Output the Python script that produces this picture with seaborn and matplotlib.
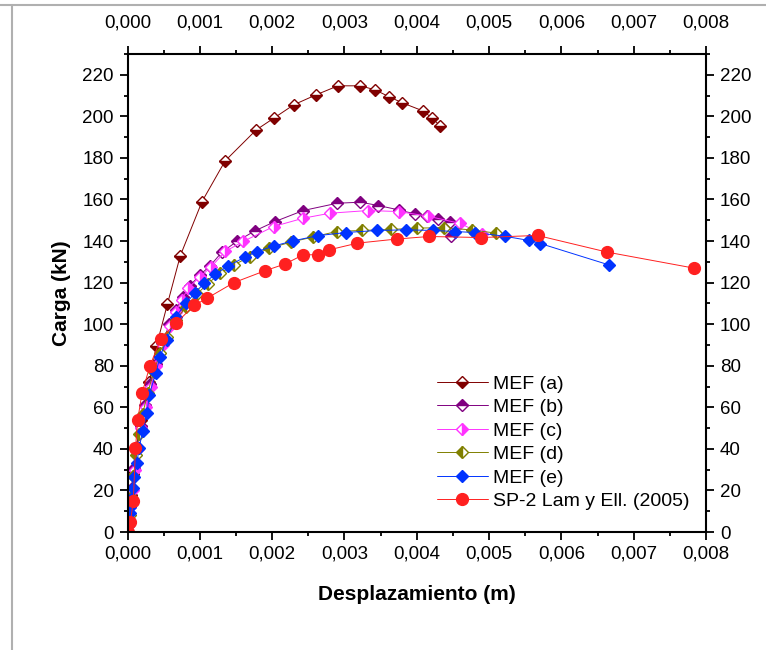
import seaborn as sns
import matplotlib.pyplot as plt
import pandas as pd
import numpy as np
from matplotlib.ticker import MultipleLocator, FuncFormatter, NullLocator
from matplotlib.lines import Line2D

# --- data (displacement in m, load in kN) ---
a_x = [0, 0.00002, 0.00005, 0.00008, 0.00012, 0.00018, 0.00030, 0.00040, 0.00055, 0.00073,
       0.00103, 0.00135, 0.00178, 0.00203, 0.00230, 0.00261, 0.00291, 0.00322, 0.00342,
       0.00362, 0.00380, 0.00408, 0.00421, 0.00432]
a_y = [0, 8, 18, 28, 40, 54, 72, 89.5, 109.5, 133, 159, 178.6, 193.5, 199.3, 205.6, 210.4,
       214.7, 214.7, 212.8, 209.4, 206.5, 202.7, 199.3, 195.5]

b_x = [0, 0.00002, 0.00004, 0.00006, 0.00009, 0.00013, 0.00018, 0.00024, 0.00031, 0.00039,
       0.00048, 0.00058, 0.00067, 0.00077, 0.00086, 0.00100, 0.00114, 0.00130, 0.00151,
       0.00176, 0.00204, 0.00243, 0.00290, 0.00322, 0.00347, 0.00375, 0.00398, 0.00414,
       0.00430, 0.00446, 0.00448]
b_y = [0, 6, 13, 21, 31, 41, 51, 61, 71, 81, 91, 100, 107, 113.3, 118.4, 123.7, 128, 134.5,
       139.8, 144.9, 149.4, 154.7, 158.2, 158.7, 157.1, 155, 153, 152, 150.8, 149, 142.5]

c_x = [0, 0.00002, 0.00004, 0.00007, 0.00010, 0.00014, 0.00019, 0.00025, 0.00032, 0.00040,
       0.00049, 0.00059, 0.00067, 0.00075, 0.00084, 0.00100, 0.00116, 0.00135, 0.00160,
       0.00202, 0.00243, 0.00280, 0.00333, 0.00375, 0.00415, 0.00460, 0.00490]
c_y = [0, 5, 12, 20, 30, 40, 50, 60, 70, 80, 90, 99, 106, 111.7, 117.5, 122.7, 127.7, 135,
       139.8, 147, 151, 153.4, 154.7, 154.2, 152, 148.5, 143.4]

d_x = [0, 0.00003, 0.00005, 0.00008, 0.00012, 0.00016, 0.00021, 0.00028, 0.00036, 0.00045,
       0.00055, 0.00067, 0.00081, 0.00096, 0.00111, 0.00128, 0.00147, 0.00169, 0.00196,
       0.00226, 0.00257, 0.00289, 0.00324, 0.00365, 0.00400, 0.00437, 0.00477, 0.00510]
d_y = [0, 8, 17, 27, 37, 47, 57, 67, 77, 86, 94, 102, 108.5, 114.5, 119.5, 124.5, 128.5,
       132.5, 136.5, 139.5, 142, 144.6, 145.1, 145.6, 146.2, 146.5, 145.3, 143.8]

e_x = [0, 0.00001, 0.00002, 0.00003, 0.00004, 0.00005, 0.00007, 0.00009, 0.00013, 0.00016,
       0.00021, 0.00027, 0.00030, 0.00039, 0.00045, 0.00054, 0.00067, 0.00081, 0.00093,
       0.00106, 0.00121, 0.00139, 0.00163, 0.00179, 0.00203, 0.00229, 0.00263, 0.00302,
       0.00345, 0.00385, 0.00423, 0.00453, 0.00480, 0.00522, 0.00555, 0.00571, 0.00666]
e_y = [0, 3, 6, 9, 12, 16, 21, 26.6, 33.4, 40.3, 48.8, 57.1, 66, 76.4, 84.4, 92.4, 103.7,
       110.1, 115, 119.7, 124, 128, 132.4, 134.9, 137.7, 140.1, 142.6, 144.1, 145.1, 145.4,
       145.1, 144.6, 144.1, 142.3, 140.3, 138.8, 128.5]

sp_x = [0, 0.00004, 0.00008, 0.00011, 0.00014, 0.00020, 0.00031, 0.00046, 0.00067, 0.00092,
        0.00110, 0.00147, 0.00190, 0.00218, 0.00243, 0.00263, 0.00279, 0.00318, 0.00373,
        0.00417, 0.00489, 0.00567, 0.00663, 0.00783]
sp_y = [0, 5, 15, 40.3, 53.9, 66.8, 80, 93, 100.5, 109, 112.5, 120, 125.7, 129, 133.4,
        133.4, 135.8, 139, 141, 142.2, 141.7, 142.7, 134.7, 127]

x_ticks = [0.000, 0.001, 0.002, 0.003, 0.004, 0.005, 0.006, 0.007, 0.008]

series = [
    ("MEF (a)", a_x, a_y, "#800000", "D", "bottom"),
    ("MEF (b)", b_x, b_y, "#800080", "D", "top"),
    ("MEF (c)", c_x, c_y, "#ff33ff", "D", "right"),
    ("MEF (d)", d_x, d_y, "#808000", "D", "left"),
    ("MEF (e)", e_x, e_y, "#0033ff", "D", "full"),
    ("SP-2 Lam y Ell. (2005)", sp_x, sp_y, "#ff2020", "o", "full"),
]

sns.set_style("ticks")
plt.rcParams["font.family"] = ["Liberation Sans", "DejaVu Sans"]
plt.rcParams["text.color"] = "black"
plt.rcParams["axes.labelcolor"] = "black"

fig = plt.figure(figsize=(7.66, 6.5), dpi=100)
ax = fig.add_axes([0.1665, 0.1815, 0.7552, 0.7354])

for label, xs, ys, col, mk, fs in series:
    df = pd.DataFrame({"x": xs, "y": ys})
    sns.lineplot(data=df, x="x", y="y", ax=ax, estimator=None, sort=False,
                 color=col, linewidth=0.7, marker=mk,
                 markersize=8.5 if mk == "o" else 6.5,
                 markerfacecolor=col, markeredgecolor=col, markeredgewidth=1.0,
                 fillstyle=fs, markerfacecoloralt="white", label=label)

ax.set_xlim(0, 0.008)
ax.set_ylim(0, 230)

comma_fmt = FuncFormatter(lambda v, p: f"{v:.3f}".replace(".", ","))
ax.set_xticks(x_ticks)
ax.xaxis.set_minor_locator(MultipleLocator(0.0005))
ax.yaxis.set_major_locator(MultipleLocator(20))
ax.yaxis.set_minor_locator(MultipleLocator(10))
ax.xaxis.set_major_formatter(comma_fmt)
ax.yaxis.set_major_formatter(FuncFormatter(lambda v, p: f"{v:.0f}"))

ax.tick_params(which="both", direction="out", top=True, right=True,
               labelright=True, colors="black", labelcolor="black", width=1.3)
ax.tick_params(which="major", length=6, labelsize=13.5, pad=4)
ax.tick_params(which="minor", length=3)
for sp in ax.spines.values():
    sp.set_visible(True)
    sp.set_color("black")
    sp.set_linewidth(1.5)

# top labels repeat the displacement scale, set further from the frame
top = ax.secondary_xaxis("top")
top.set_xticks(x_ticks)
top.xaxis.set_minor_locator(NullLocator())
top.xaxis.set_major_formatter(comma_fmt)
top.tick_params(which="major", length=0, labelsize=13.5, pad=16.3, labelcolor="black")
top.spines["top"].set_visible(False)

ax.set_xlabel("Desplazamiento (m)", fontsize=15, fontweight="bold", labelpad=16)
ax.set_ylabel("Carga (kN)", fontsize=15, fontweight="bold", labelpad=8)

ax.legend(loc="lower left", bbox_to_anchor=(0.535, 0.046), frameon=False,
          fontsize=14, handlelength=2.6, handletextpad=0.3, labelspacing=0.3,
          borderpad=0, borderaxespad=0)

# light grey frame around the picture (top and left edges)
fig.add_artist(Line2D([0, 1], [1 - 5 / 650, 1 - 5 / 650], color="#b0b0b0", lw=1.5,
                      transform=fig.transFigure))
fig.add_artist(Line2D([12 / 766, 12 / 766], [0, 1 - 5 / 650], color="#b0b0b0", lw=1.5,
                      transform=fig.transFigure))

plt.savefig("out.png", dpi=100)
plt.close()
